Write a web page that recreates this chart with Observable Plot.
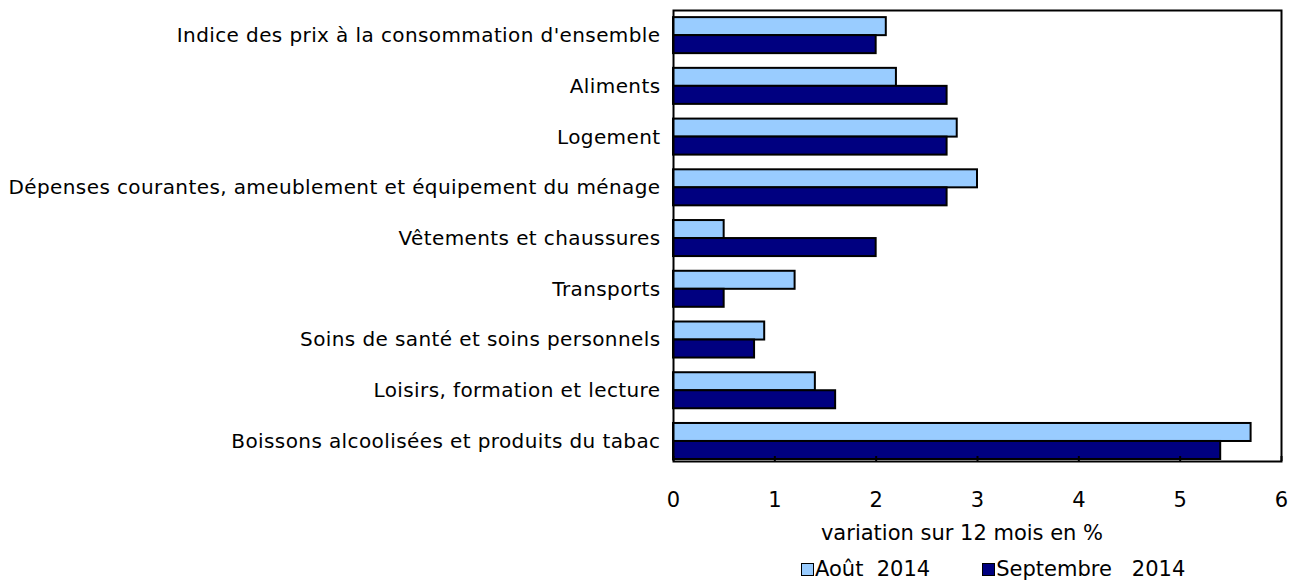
<!DOCTYPE html>
<html><head><meta charset="utf-8">
<script src="https://cdn.jsdelivr.net/npm/d3@7"></script>
<script src="https://cdn.jsdelivr.net/npm/@observablehq/plot@0.6"></script>
<style>
body{margin:0;background:#fff;font-family:"DejaVu Sans",Verdana,sans-serif;}
#wrap{position:relative;width:1296px;height:581px;}
#xlabel{position:absolute;top:521px;left:0;width:1296px;font-size:21px;color:#000;line-height:24px;}
#legend{position:absolute;top:557px;left:801px;font-size:21px;line-height:24px;display:flex;white-space:pre;color:#000;}
.sw{display:inline-block;width:11px;height:11px;border:1.5px solid #000;margin-right:1px;vertical-align:0px;}
</style>
</head><body><div id="wrap"></div>
<script>
const categories = [
  "Indice des prix à la consommation d'ensemble",
  "Aliments",
  "Logement",
  "Dépenses courantes, ameublement et équipement du ménage",
  "Vêtements et chaussures",
  "Transports",
  "Soins de santé et soins personnels",
  "Loisirs, formation et lecture",
  "Boissons alcoolisées et produits du tabac"
];
const aout2014 = [2.1, 2.2, 2.8, 3.0, 0.5, 1.2, 0.9, 1.4, 5.7];
const sept2014 = [2.0, 2.7, 2.7, 2.7, 2.0, 0.5, 0.8, 1.6, 5.4];
const seriesNames = ["Août  2014", "Septembre   2014"];
const seriesColors = ["#99CCFF", "#000080"];
const xTicks = [0, 1, 2, 3, 4, 5, 6];
const xLabel = "variation sur 12 mois en %";

const dataA = categories.map((c, i) => ({cat: c, v: aout2014[i]}));
const dataS = categories.map((c, i) => ({cat: c, v: sept2014[i]}));

const chart = Plot.plot({
  width: 1296,
  height: 515,
  marginLeft: 673,
  marginRight: 15,
  marginTop: 10,
  marginBottom: 54,
  style: {fontFamily: "'DejaVu Sans', Verdana, sans-serif", fontSize: "21px", color: "#000", background: "#fff", overflow: "visible"},
  x: {domain: [0, 6], ticks: xTicks},
  y: {domain: categories, paddingInner: 0.29, paddingOuter: 0.09, align: 0.78, round: false},
  marks: [
    Plot.barX(dataA, {x: "v", y: "cat", fill: seriesColors[0], stroke: "#000", strokeWidth: 2, insetBottom: 18}),
    Plot.barX(dataS, {x: "v", y: "cat", fill: seriesColors[1], stroke: "#000", strokeWidth: 2, insetTop: 18}),
    Plot.frame({stroke: "#000", strokeWidth: 2}),
    Plot.axisX({ticks: xTicks, tickSize: -5, tickPadding: 36, tickFormat: d => String(d), label: null, strokeWidth: 2, fontSize: 21}),
    Plot.axisY({tickSize: 0, tickPadding: 13, label: null, fontSize: 20})
  ]
});
const wrap = document.getElementById("wrap");
wrap.appendChild(chart);
chart.querySelectorAll("[aria-label='y-axis tick label'] text").forEach(t => t.setAttribute("letter-spacing", "0.4"));
const xl = document.createElement("div");
xl.id = "xlabel";
xl.innerHTML = `<span style="position:absolute;left:962px;transform:translateX(-50%);white-space:nowrap">${xLabel}</span>`;
wrap.appendChild(xl);
const lg = document.createElement("div");
lg.id = "legend";
seriesNames.forEach((n, i) => {
  const s = document.createElement("span");
  s.style.marginRight = i === 0 ? "52px" : "0";
  s.innerHTML = `<span class="sw" style="background:${seriesColors[i]}"></span>${n}`;
  lg.appendChild(s);
});
wrap.appendChild(lg);
</script></body></html>
